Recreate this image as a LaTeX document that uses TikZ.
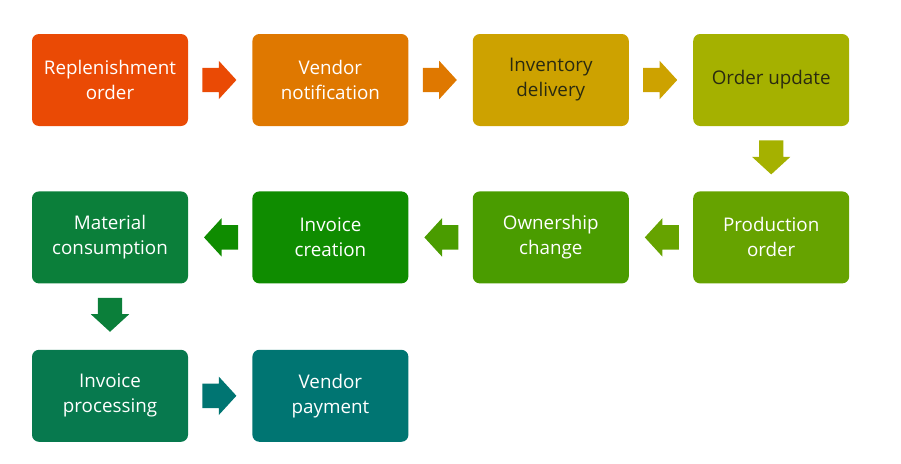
\documentclass[tikz,border=0pt]{standalone}
\usepackage{fontspec}
\setmainfont{Open Sans}
\usetikzlibrary{positioning,shapes.arrows,calc}
\definecolor{repC}{HTML}{EA4A05}
\definecolor{notC}{HTML}{DF7800}
\definecolor{delC}{HTML}{CDA200}
\definecolor{updC}{HTML}{A5B100}
\definecolor{proC}{HTML}{66A300}
\definecolor{ownC}{HTML}{4A9C00}
\definecolor{creC}{HTML}{0F8C00}
\definecolor{conC}{HTML}{0B7F3A}
\definecolor{proclC}{HTML}{07794E}
\definecolor{payC}{HTML}{007572}
\definecolor{darkT}{HTML}{2A2A10}
\begin{document}
\begin{tikzpicture}[x=1pt,y=1pt,
    stage/.style={rounded corners=7pt,minimum width=156pt,minimum height=92pt,inner sep=0pt,
        align=center,text=white,font=\fontsize{18.8}{25}\selectfont},
    flow/.style={single arrow,single arrow head extend=7pt,single arrow tip angle=95,
        anchor=tail,inner xsep=0pt,inner ysep=12pt,minimum height=34pt},
    downflow/.style={flow,shape border rotate=270,inner xsep=12pt,inner ysep=0pt,minimum width=34pt}]
    \useasboundingbox (0,0) rectangle (901,-463);
    % top row, left to right
    \node[stage,fill=repC] (repl) at (110,-80) {Replenishment\\order};
    \node[stage,fill=notC,right=64pt of repl] (vnot) {Vendor\\notification};
    \node[stage,fill=delC,text=darkT,right=64pt of vnot] (idel) {Inventory\\delivery};
    \node[stage,fill=updC,text=darkT,right=64pt of idel] (oupd) {Order update};
    % middle row, right to left
    \node[stage,fill=proC,below=65pt of oupd] (prod) {Production\\order};
    \node[stage,fill=ownC,left=64pt of prod] (ownr) {Ownership\\change};
    \node[stage,fill=creC,left=64pt of ownr] (icre) {Invoice\\creation};
    \node[stage,fill=conC,left=64pt of icre] (mcon) {Material\\consumption};
    % bottom row
    \node[stage,fill=proclC,below=66pt of mcon] (iproc) {Invoice\\processing};
    \node[stage,fill=payC,right=64pt of iproc] (vpay) {Vendor\\payment};
    % block arrows, tail 14pt off the box they leave
    \foreach \a/\c in {repl/repC,vnot/notC,idel/delC,iproc/payC}
        \node[flow,fill=\c] (\a-out) at ([xshift=14pt]\a.east) {};
    \foreach \a/\c in {prod/proC,ownr/ownC,icre/creC}
        \node[flow,fill=\c,shape border rotate=180] (\a-out) at ([xshift=-14pt]\a.west) {};
    \foreach \a/\c in {oupd/updC,mcon/conC}
        \node[downflow,fill=\c] (\a-out) at ([yshift=-14pt]\a.south) {};
\end{tikzpicture}
\end{document}
